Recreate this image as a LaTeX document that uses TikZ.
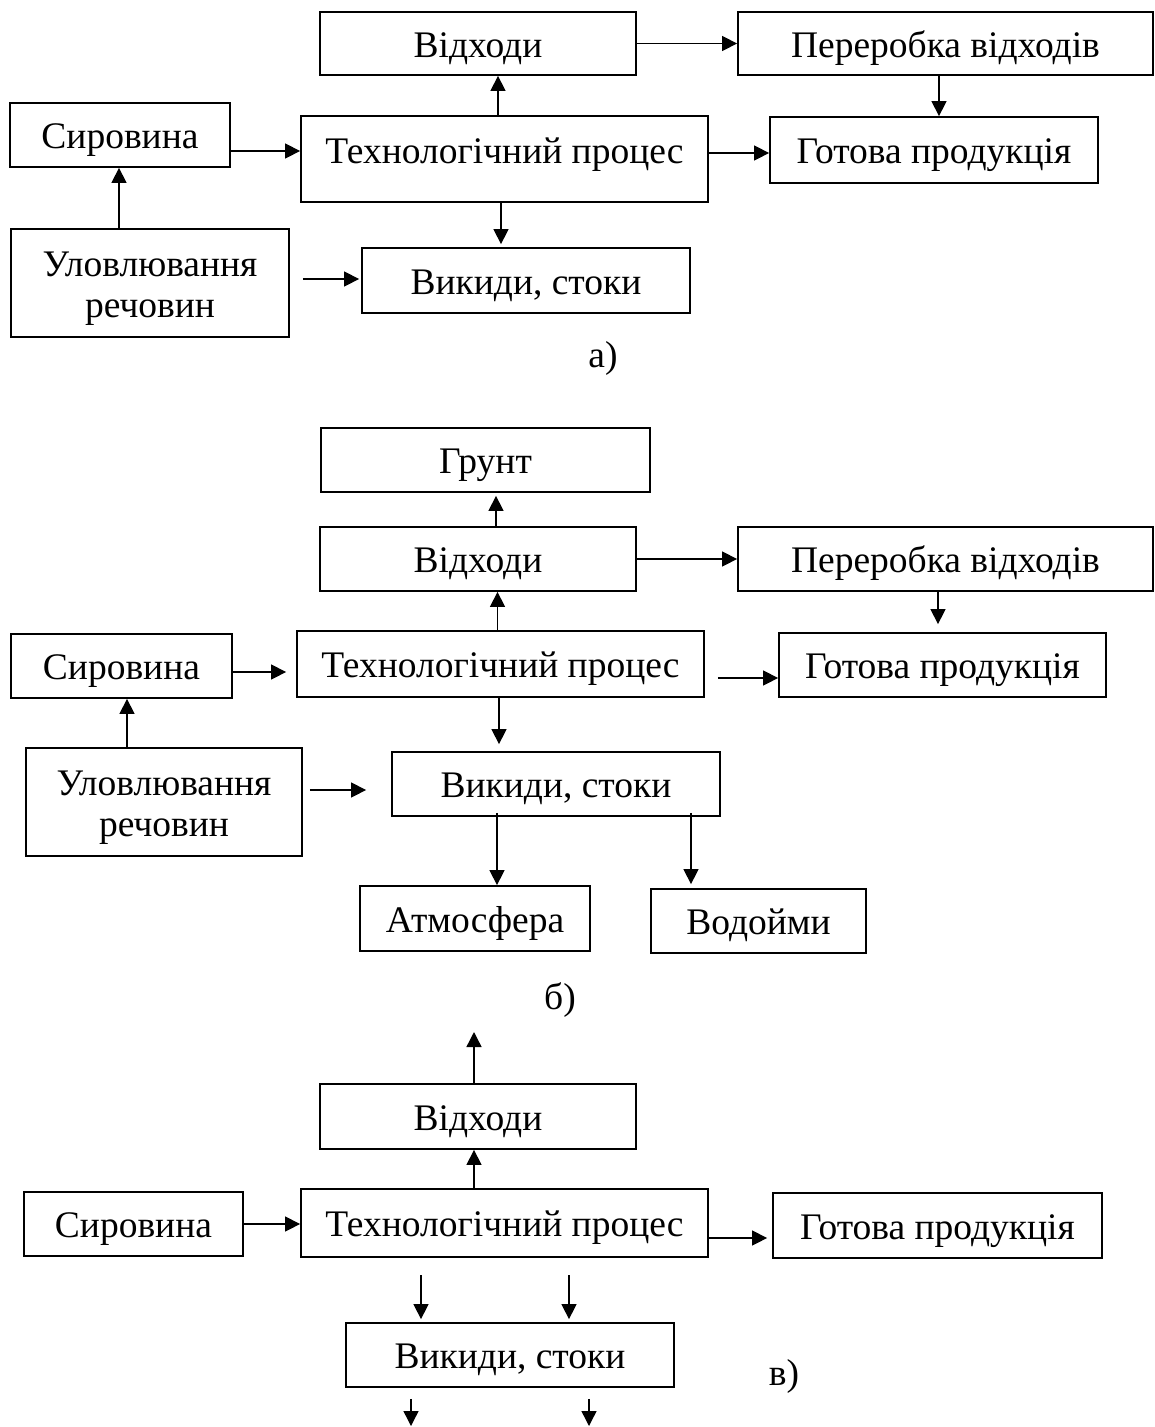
\documentclass[tikz,border=0pt]{standalone}
\usepackage{fontspec}
\setmainfont{Liberation Serif}
\usetikzlibrary{arrows.meta,calc}
\begin{document}
\begin{tikzpicture}[x=1pt,y=-1pt,
  box/.style={draw, line width=1.8pt, inner sep=0pt, text height=30pt, text depth=3pt,
    font=\fontsize{37.5}{44}\selectfont},
  txt/.style={inner sep=0pt, font=\fontsize{37.5}{44}\selectfont},
  arr/.style={line width=1.4pt, -{Triangle[length=15pt,width=15pt]}}]
\useasboundingbox (0,0) rectangle (1155,1427);

% ---------------- a) ----------------
\node[box, minimum width=316pt, minimum height=63pt] (a_otx) at (478,43.5) {Відходи};
\node[box, minimum width=415pt, minimum height=63pt] (a_per) at (945.5,43.5) {Переробка відходів};
\node[box, minimum width=220pt, minimum height=64pt] (a_sir) at (120,135) {Сировина};
\node[box, minimum width=407pt, minimum height=86pt, text height=22pt, text depth=14pt] (a_tp) at (504.5,159) {Технологічний процес};
\node[box, minimum width=328pt, minimum height=66pt] (a_got) at (934,150) {Готова продукція};
\node[box, minimum width=278pt, minimum height=108pt] (a_ul) at (150,283) {};
\node[txt, anchor=base] (a_ul1) at ($(a_ul.center)+(0,-6.5)$) {Уловлювання};
\node[txt, anchor=base] (a_ul2) at ($(a_ul.center)+(0,34)$) {речовин};
\node[box, minimum width=328pt, minimum height=65pt] (a_vyk) at (526,280.5) {Викиди, стоки};
\node[txt, anchor=base] (a_lbl) at (603,367) {а)};

\draw[arr] (a_otx.east |- 0,43.5) -- (a_per.west |- 0,43.5);
\draw[arr] (a_tp.north -| 498,0) -- (a_otx.south -| 498,0);
\draw[arr] (a_sir.east |- 0,151) -- (a_tp.west |- 0,151);
\draw[arr] (a_tp.east |- 0,153) -- (a_got.west |- 0,153);
\draw[arr] (a_per.south -| 939,0) -- (a_got.north -| 939,0);
\draw[arr, shorten >=3pt] (a_tp.south -| 501,0) -- (a_vyk.north -| 501,0);
\draw[arr] (a_ul.north -| 119,0) -- (a_sir.south -| 119,0);
\draw[arr, shorten <=13pt, shorten >=2pt] (a_ul.east |- 0,279) -- (a_vyk.west |- 0,279);

% ---------------- b) ----------------
\node[box, minimum width=329pt, minimum height=64pt] (b_grunt) at (485.5,460) {Грунт};
\node[box, minimum width=316pt, minimum height=64pt] (b_otx) at (478,559) {Відходи};
\node[box, minimum width=415pt, minimum height=64pt] (b_per) at (945.5,559) {Переробка відходів};
\node[box, minimum width=221pt, minimum height=64pt] (b_sir) at (121.5,666) {Сировина};
\node[box, minimum width=407pt, minimum height=66pt] (b_tp) at (500.5,664) {Технологічний процес};
\node[box, minimum width=327pt, minimum height=64pt] (b_got) at (942.5,665) {Готова продукція};
\node[box, minimum width=276pt, minimum height=108pt] (b_ul) at (164,802) {};
\node[txt, anchor=base] (b_ul1) at ($(b_ul.center)+(0,-6.5)$) {Уловлювання};
\node[txt, anchor=base] (b_ul2) at ($(b_ul.center)+(0,34)$) {речовин};
\node[box, minimum width=328pt, minimum height=64pt] (b_vyk) at (556,784) {Викиди, стоки};
\node[box, minimum width=230pt, minimum height=65pt] (b_atm) at (475,918.5) {Атмосфера};
\node[box, minimum width=215pt, minimum height=64pt] (b_vod) at (758.5,921) {Водойми};
\node[txt, anchor=base] (b_lbl) at (560,1009) {б)};

\draw[arr] (b_otx.east |- 0,559) -- (b_per.west |- 0,559);
\draw[arr, shorten >=3pt] (b_otx.north -| 496,0) -- (b_grunt.south -| 496,0);
\draw[arr] (b_tp.north -| 497.5,0) -- (b_otx.south -| 497.5,0);
\draw[arr, shorten >=10pt] (b_sir.east |- 0,672) -- (b_tp.west |- 0,672);
\draw[arr, shorten <=13pt] (b_tp.east |- 0,678) -- (b_got.west |- 0,678);
\draw[arr, shorten >=8pt] (b_per.south -| 938,0) -- (b_got.north -| 938,0);
\draw[arr, shorten >=7pt] (b_tp.south -| 499,0) -- (b_vyk.north -| 499,0);
\draw[arr] (b_ul.north -| 127,0) -- (b_sir.south -| 127,0);
\draw[arr, shorten <=7pt, shorten >=25pt] (b_ul.east |- 0,790) -- (b_vyk.west |- 0,790);
\draw[arr, shorten <=-4pt] (b_vyk.south -| 497,0) -- (b_atm.north -| 497,0);
\draw[arr, shorten <=-4pt, shorten >=4pt] (b_vyk.south -| 691,0) -- (b_vod.north -| 691,0);

% ---------------- c) ----------------
\node[box, minimum width=316pt, minimum height=65pt] (c_otx) at (478,1116.5) {Відходи};
\node[box, minimum width=219pt, minimum height=64pt] (c_sir) at (133.5,1224) {Сировина};
\node[box, minimum width=407pt, minimum height=68pt] (c_tp) at (504.5,1223) {Технологічний процес};
\node[box, minimum width=329pt, minimum height=65pt] (c_got) at (937.5,1225.5) {Готова продукція};
\node[box, minimum width=328pt, minimum height=64pt] (c_vyk) at (510,1355) {Викиди, стоки};
\node[txt, anchor=base] (c_lbl) at (784,1385) {в)};

\coordinate (c_up) at (474,1032);
\coordinate (c_in1) at (421,1275);
\coordinate (c_in2) at (569,1275);
\coordinate (c_out1) at (411,1426);
\coordinate (c_out2) at (589,1426);

\draw[arr] (c_tp.north -| 474,0) -- (c_otx.south -| 474,0);
\draw[arr] (c_otx.north -| c_up) -- (c_up);
\draw[arr] (c_sir.east |- 0,1224) -- (c_tp.west |- 0,1224);
\draw[arr, shorten >=5pt] (c_tp.east |- 0,1238) -- (c_got.west |- 0,1238);
\draw[arr, shorten >=3pt] (c_in1) -- (c_vyk.north -| c_in1);
\draw[arr, shorten >=3pt] (c_in2) -- (c_vyk.north -| c_in2);
\draw[arr, shorten <=11pt] (c_vyk.south -| c_out1) -- (c_out1);
\draw[arr, shorten <=11pt] (c_vyk.south -| c_out2) -- (c_out2);
\end{tikzpicture}
\end{document}
